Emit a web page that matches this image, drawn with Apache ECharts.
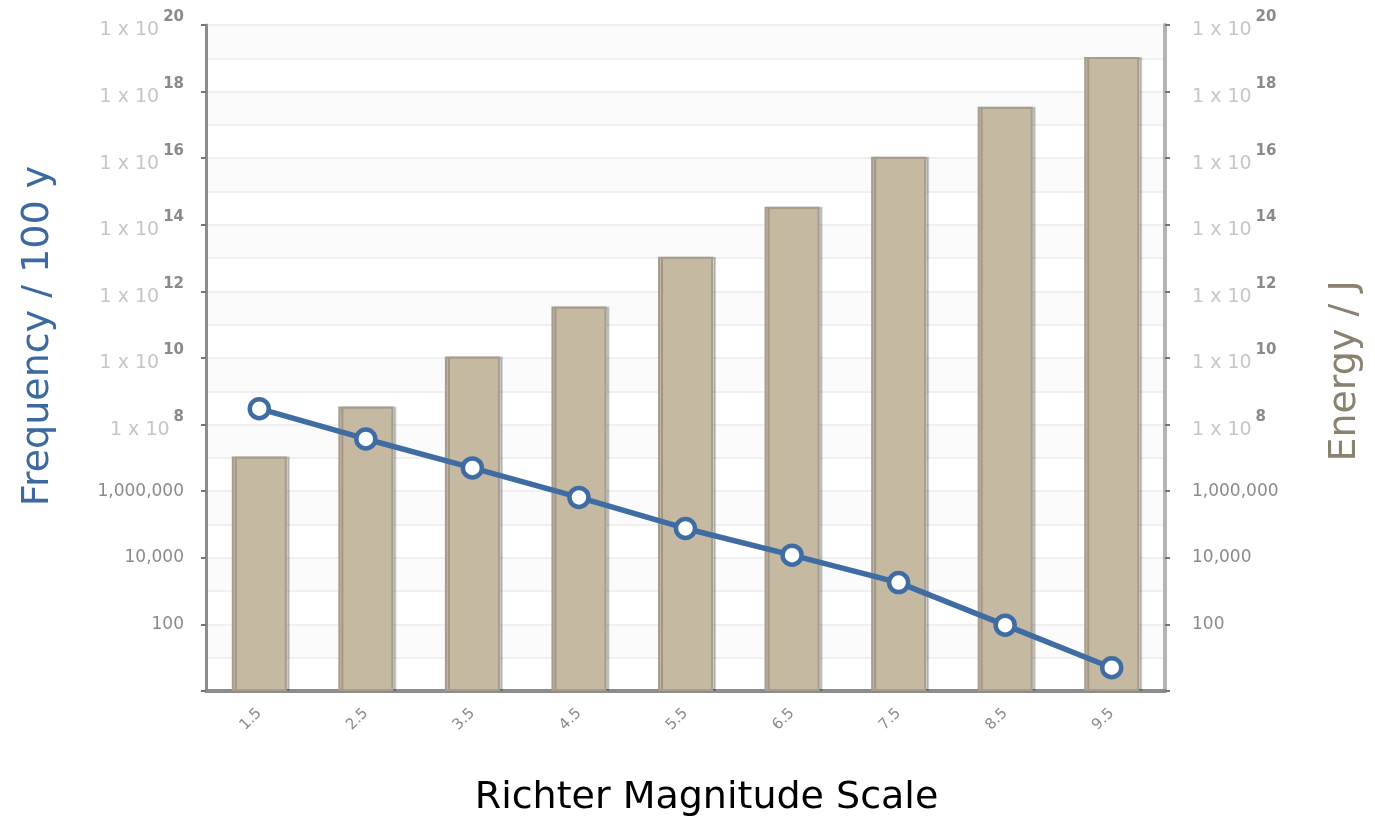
<!DOCTYPE html>
<html>
<head>
<meta charset="utf-8">
<script src="https://cdn.jsdelivr.net/npm/echarts@6/dist/echarts.min.js"></script>
<style>html,body{margin:0;padding:0;background:#fff;}#c{width:1375px;height:822px;}</style>
</head>
<body>
<div id="c"></div>
<script>
const categories = ['1.5','2.5','3.5','4.5','5.5','6.5','7.5','8.5','9.5'];
const energy = [1.1e7, 3.5e8, 1.1e10, 3.5e11, 1.1e13, 3.5e14, 1.1e16, 3.5e17, 1.1e19];
const frequency = [3e8, 3.7e7, 5e6, 6.5e5, 7.6e4, 1.2e4, 1.8e3, 95, 5];
const axisMin = 1, axisMax = 1e20;

function fmt(v){
  if (v < 10) return '';
  const e = Math.round(Math.log10(v));
  if (e >= 8) return '{b|1 x 10}{s|' + e + '}';
  return '{n|' + Math.round(v).toLocaleString('en-US') + '}';
}
const rich = {
  b: {color:'#c6c6c6', fontSize:19, fontFamily:'DejaVu Sans', lineHeight:30, verticalAlign:'bottom'},
  s: {color:'#8a8a8a', fontSize:15, fontWeight:'bold', fontFamily:'DejaVu Sans', lineHeight:30, verticalAlign:'top', padding:[0,0,16,4]},
  n: {color:'#8a8a8a', fontSize:17, fontFamily:'DejaVu Sans'}
};

const chart = echarts.init(document.getElementById('c'));
chart.setOption({
  animation:false,
  backgroundColor:'#ffffff',
  grid:{left:206, right:210, top:25, bottom:128},
  xAxis:{
    type:'category', data:categories,
    name:'Richter Magnitude Scale', nameLocation:'middle', nameGap:88,
    nameTextStyle:{fontSize:38, color:'#000', fontFamily:'DejaVu Sans', padding:[0,0,0,42]},
    axisLine:{lineStyle:{color:'#8c8c8c', width:4}},
    axisTick:{show:false},
    axisLabel:{rotate:45, color:'#8a8a8a', fontSize:15, margin:20, fontFamily:'DejaVu Sans'}
  },
  yAxis:[
    {type:'log', logBase:10, min:axisMin, max:axisMax, interval:2, position:'left',
     name:'Frequency / 100 y', nameLocation:'middle', nameGap:149, nameRotate:90,
     nameTextStyle:{fontSize:38, color:'#3c6aa0', fontFamily:'DejaVu Sans', padding:[0,0,0,44]},
     axisLine:{show:true, lineStyle:{color:'#8c8c8c', width:3}},
     axisTick:{show:true, inside:false, length:5, lineStyle:{color:'#777', width:2}},
     axisLabel:{formatter:fmt, rich:rich, margin:22},
     splitLine:{show:false}},
    {type:'log', logBase:10, min:axisMin, max:axisMax, interval:2, position:'right',
     name:'Energy / J', nameLocation:'middle', nameGap:161, nameRotate:90,
     nameTextStyle:{fontSize:38, color:'#8b8170', fontFamily:'DejaVu Sans', padding:[0,26,0,0]},
     axisLine:{show:true, lineStyle:{color:'#b4b4b4', width:4}},
     axisTick:{show:true, inside:false, length:5, lineStyle:{color:'#777', width:2}},
     axisLabel:{formatter:fmt, rich:rich, margin:27, align:'left'},
     splitLine:{show:false}},
    {type:'log', logBase:10, min:axisMin, max:axisMax, interval:1, show:true, position:'left',
     axisLine:{show:false}, axisTick:{show:false}, axisLabel:{show:false},
     splitLine:{show:true, lineStyle:{color:'#f0f0f0', width:2}},
     splitArea:{show:true, areaStyle:{color:['#ffffff','#fbfbfb']}}}
  ],
  series:[
    {type:'bar', yAxisIndex:1, data:energy, barWidth:55, z:2,
     itemStyle:{color:'#c6b9a2', borderColor:'#a69d8e', borderWidth:2,
       shadowColor:'rgba(0,0,0,0.18)', shadowOffsetX:3, shadowOffsetY:0, shadowBlur:0}},
    {type:'line', yAxisIndex:0, data:frequency, z:5,
     lineStyle:{color:'#3f6ca3', width:5.5},
     symbol:'circle', symbolSize:19,
     itemStyle:{color:'#ffffff', borderColor:'#3f6ca3', borderWidth:4.5}}
  ]
});
</script>
</body>
</html>
